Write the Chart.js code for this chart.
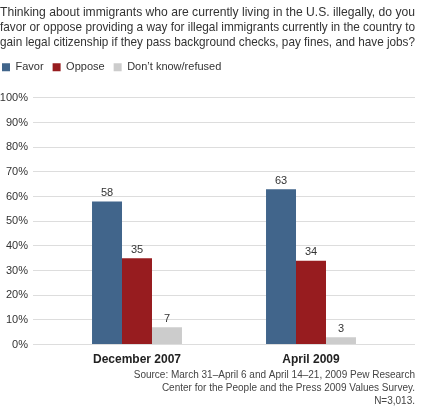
<!DOCTYPE html>
<html>
<head>
<meta charset="utf-8">
<script src="https://cdn.jsdelivr.net/npm/chart.js"></script>
<style>
  html, body { margin: 0; padding: 0; background: #fff; }
  #wrap { width: 421px; height: 408px; }
</style>
</head>
<body>
<div id="wrap"><canvas id="myChart" width="421" height="408"></canvas></div>
<script>
// data
const surveys = ["December 2007", "April 2009"];
const favor = [58, 63];
const oppose = [35, 34];
const dontKnow = [7, 3];
const yTicks = [0, 10, 20, 30, 40, 50, 60, 70, 80, 90, 100];

const titleLines = [
  "Thinking about immigrants who are currently living in the U.S. illegally, do you",
  "favor or oppose providing a way for illegal immigrants currently in the country to",
  "gain legal citizenship if they pass background checks, pay fines, and have jobs?"
];
const sourceLines = [
  "Source: March 31\u2013April 6 and April 14\u201321, 2009 Pew Research",
  "Center for the People and the Press 2009 Values Survey.",
  "N=3,013."
];

const FONT = "'Liberation Sans Narrow', 'Liberation Sans', sans-serif";
const gridColor = "#dddddd";

// value labels above the bars
const barValues = {
  id: "barValues",
  afterDatasetsDraw(chart) {
    const ctx = chart.ctx;
    ctx.save();
    ctx.font = "11px " + FONT;
    ctx.fillStyle = "#333";
    ctx.textAlign = "center";
    ctx.textBaseline = "bottom";
    chart.data.datasets.forEach((ds, i) => {
      chart.getDatasetMeta(i).data.forEach((bar, j) => {
        ctx.fillText(ds.data[j], bar.x, bar.y - 3);
      });
    });
    ctx.restore();
  }
};

// extra room under the legend, and pull it to the left edge
const legendTweak = {
  id: "legendTweak",
  beforeInit(chart) {
    const legend = chart.legend;
    if (!legend) return;
    const fit = legend.fit;
    legend.fit = function () {
      fit.call(this);
      this.height += 15;
    };
    const draw = legend.draw;
    legend.draw = function () {
      const c = this.ctx;
      c.save();
      c.translate(-7, 0);
      draw.call(this);
      c.restore();
    };
  }
};

const ctx = document.getElementById("myChart");

new Chart(ctx, {
  type: "bar",
  data: {
    labels: surveys,
    datasets: [
      { label: "Favor", data: favor, backgroundColor: "#41658b" },
      { label: "Oppose", data: oppose, backgroundColor: "#971c1f" },
      { label: "Don\u2019t know/refused", data: dontKnow, backgroundColor: "#cccccc" }
    ]
  },
  options: {
    responsive: false,
    animation: false,
    layout: { padding: { left: 0, right: 6, top: 5, bottom: 0 } },
    datasets: {
      bar: { categoryPercentage: 0.517, barPercentage: 1.0 }
    },
    scales: {
      x: {
        grid: { display: false },
        border: { display: false },
        ticks: {
          color: "#222",
          padding: 0,
          font: { family: FONT, size: 12, weight: "bold" }
        }
      },
      y: {
        min: 0,
        max: 100,
        afterFit(scale) { scale.width = 50; },
        afterBuildTicks(scale) { scale.ticks = yTicks.map(v => ({ value: v })); },
        border: { display: false },
        grid: { color: gridColor, tickLength: 17, tickColor: gridColor },
        ticks: {
          color: "#333",
          padding: 5,
          font: { family: FONT, size: 11 },
          callback: v => v + "%"
        }
      },
      yRight: {
        position: "right",
        min: 0,
        max: 100,
        afterFit(scale) { scale.width = 17; },
        afterBuildTicks(scale) { scale.ticks = yTicks.map(v => ({ value: v })); },
        border: { display: false },
        grid: { drawOnChartArea: false, color: gridColor, tickLength: 17, tickColor: gridColor },
        ticks: { display: false }
      }
    },
    plugins: {
      title: {
        display: true,
        text: titleLines,
        align: "start",
        color: "#333",
        font: { family: FONT, size: 13, weight: "normal", lineHeight: 1.15 },
        padding: { top: 0, bottom: 3 }
      },
      legend: {
        display: true,
        align: "start",
        labels: {
          boxWidth: 8,
          boxHeight: 8,
          padding: 9,
          color: "#333",
          font: { family: FONT, size: 11 }
        }
      },
      subtitle: {
        display: true,
        position: "bottom",
        align: "end",
        text: sourceLines,
        color: "#444",
        font: { family: FONT, size: 10, lineHeight: 1.3 },
        padding: { top: 2, bottom: 0 }
      },
      tooltip: { enabled: false }
    }
  },
  plugins: [barValues, legendTweak]
});
</script>
</body>
</html>
